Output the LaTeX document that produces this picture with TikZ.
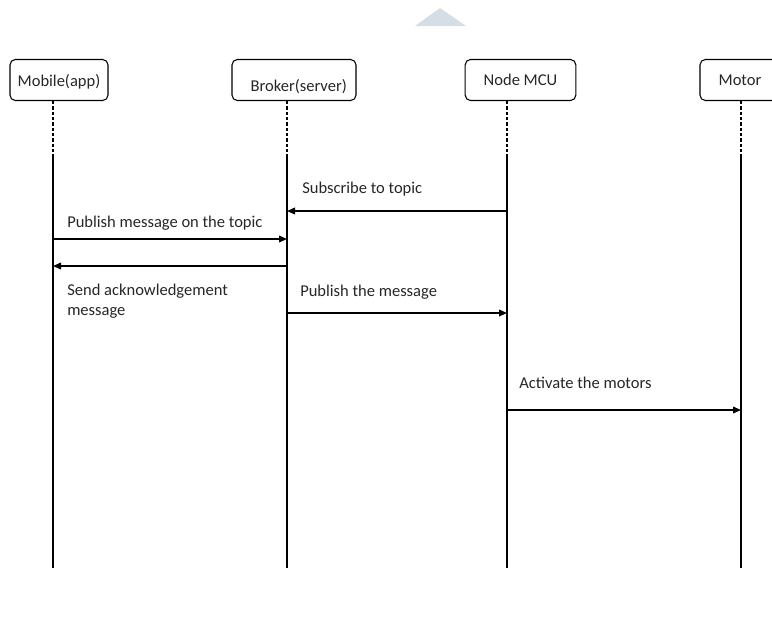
\documentclass[tikz,border=0pt]{standalone}
\usepackage{fontspec}
\setmainfont{Carlito}
\usetikzlibrary{positioning,arrows.meta,calc}
\definecolor{markgray}{RGB}{212,222,228}

\begin{document}
\begin{tikzpicture}[
        x=0.75pt, y=-0.75pt,
        every node/.style={font=\fontsize{12.4}{15}\selectfont, text=black!85},
        actorbox/.style={draw, rounded corners=4pt, thick, minimum height=30.75pt, inner sep=2pt},
        lifedash/.style={dashed, line width=1.2pt, dash pattern=on 2.5pt off 1.5pt},
        lifeline/.style={line width=1.5pt},
        msg/.style={-{Triangle[length=6pt, width=5pt]}, line width=1.1pt},
        msglabel/.style={anchor=west, inner sep=0pt, align=left}
    ]
        \useasboundingbox (0,0) rectangle (772,626);

        % faint mark at the top
        \fill[markgray] (415,26) -- (440,8) -- (466,26) -- cycle;

        % Actor boxes
        \node[actorbox, minimum width=73.5pt, text height=9pt, text depth=3pt] (mobile) at (59,80) {\raisebox{-1.5pt}{Mobile(app)}};
        \node[actorbox, minimum width=93pt, text height=9pt, text depth=3pt] (broker) at (294,80) {\hspace{7pt}\raisebox{-5.5pt}{Broker(server)}};
        \node[actorbox, minimum width=83pt] (mcu) at (520.5,80) {Node MCU};
        \node[actorbox, minimum width=60pt] (motor) at (740,80) {Motor};

        % Lifeline ends
        \coordinate (mobile-top) at (53,101);
        \coordinate (mobile-mid) at (53,157);
        \coordinate (mobile-end) at (53,568);
        \coordinate (broker-top) at (287,101);
        \coordinate (broker-mid) at (287,157);
        \coordinate (broker-end) at (287,568);
        \coordinate (mcu-top) at (507,101);
        \coordinate (mcu-mid) at (507,157);
        \coordinate (mcu-end) at (507,568);
        \coordinate (motor-top) at (741,101);
        \coordinate (motor-mid) at (741,157);
        \coordinate (motor-end) at (741,568);

        % Lifelines
        \foreach \who in {mobile,broker,mcu,motor}{
            \draw[lifedash] (\who-top) -- (\who-mid);
            \draw[lifeline] (\who-mid) -- (\who-end);
        }

        % Message points on the lifelines
        \coordinate (sub-a) at (507,211);
        \coordinate (sub-b) at (287,211);
        \coordinate (pub-a) at (53,239);
        \coordinate (pub-b) at (287,239);
        \coordinate (ack-a) at (287,266);
        \coordinate (ack-b) at (53,266);
        \coordinate (fwd-a) at (287,313);
        \coordinate (fwd-b) at (507,313);
        \coordinate (act-a) at (507,410);
        \coordinate (act-b) at (741,410);

        % Messages
        \draw[msg] (sub-a) -- (sub-b);
        \draw[msg] (pub-a) -- (pub-b);
        \draw[msg] (ack-a) -- (ack-b);
        \draw[msg] (fwd-a) -- (fwd-b);
        \draw[msg] (act-a) -- (act-b);

        % Message labels
        \node[msglabel] (sublbl) at (302,189) {Subscribe to topic};
        \node[msglabel] (publbl) at (67,223) {Publish message on the topic};
        \node[msglabel, anchor=north west] (acklbl) at (67,284) {Send acknowledgement\\message};
        \node[msglabel] (fwdlbl) at (300,292) {Publish the message};
        \node[msglabel] (actlbl) at (519,383) {Activate the motors};

    \end{tikzpicture}
\end{document}
